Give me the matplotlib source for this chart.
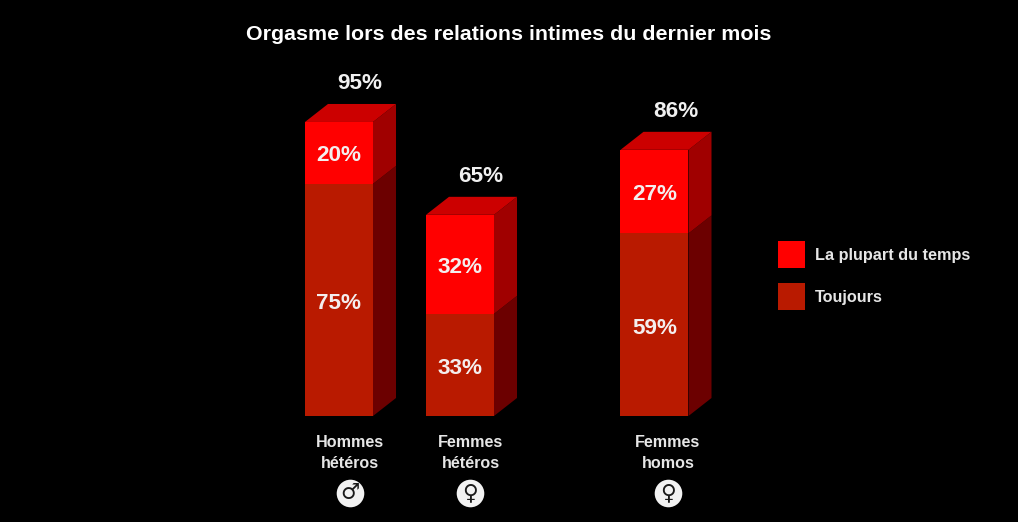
import matplotlib
matplotlib.use("Agg")
import matplotlib.pyplot as plt
from matplotlib.patches import Polygon, Patch

title = "Orgasme lors des relations intimes du dernier mois"
groups = ["Hommes\nhétéros", "Femmes\nhétéros", "Femmes\nhomos"]
symbols = ["♂", "♀", "♀"]
toujours = [75, 33, 59]
plupart = [20, 32, 27]
totals = [95, 65, 86]
centers = [339, 460, 654.5]
label_offsets = [11, 10.5, 13.5]
series_names = ["La plupart du temps", "Toujours"]

RED, DARK = "#ff0000", "#b91a00"
SIDE_RED, SIDE_DARK = "#a00000", "#6c0000"
TOP_RED = "#cc0000"
WIDTH, DX = 68, 23
PX_PER_UNIT = 3.095
DY = 18 / PX_PER_UNIT
FONT = "Liberation Sans"

fig = plt.figure(figsize=(10.18, 5.22), dpi=100, facecolor="black")
ax = fig.add_axes([0, 0, 1, 1], facecolor="black")
ax.set_xlim(0, 1018)
ax.set_ylim(-(522 - 416) / PX_PER_UNIT, 416 / PX_PER_UNIT)
ax.axis("off")


def side(x0, lo, hi, color):
    x1 = x0 + WIDTH
    ax.add_patch(Polygon([(x1, lo), (x1 + DX, lo + DY), (x1 + DX, hi + DY), (x1, hi)],
                         closed=True, fc=color, ec="none"))


for c, t, p, total, g, s, off in zip(centers, toujours, plupart, totals, groups, symbols, label_offsets):
    x0 = c - WIDTH / 2
    side(x0, 0, t, SIDE_DARK)
    side(x0, t, total, SIDE_RED)
    ax.add_patch(Polygon([(x0, total), (x0 + DX, total + DY), (x0 + WIDTH + DX, total + DY),
                          (x0 + WIDTH, total)], closed=True, fc=TOP_RED, ec="none"))
    ax.bar(c, t, width=WIDTH, color=DARK, linewidth=0)
    ax.bar(c, p, width=WIDTH, bottom=t, color=RED, linewidth=0)
    ax.text(c, t / 2 - 1.1, f"{t}%", color="#f4eeee", fontsize=16.2, fontweight="bold",
            family=FONT, ha="center", va="center")
    ax.text(c, t + p / 2 - 0.9, f"{p}%", color="#f4eeee", fontsize=16.2, fontweight="bold",
            family=FONT, ha="center", va="center")
    ax.text(c + 21, total + 12.4, f"{total}%", color="#f0f0f0", fontsize=16.2, fontweight="bold",
            family=FONT, ha="center", va="center")
    lx = c + off
    ax.text(lx, -12.1, g, color="#e6e6e6", fontsize=11.6, fontweight="bold", family=FONT,
            ha="center", va="center", linespacing=1.5)
    ax.scatter([lx], [-25.0], s=395, color="#f2f2f2", linewidth=0, zorder=3)
    ax.text(lx, -25.0, s, color="#1a1a1a", fontsize=15.5, family="DejaVu Sans",
            ha="center", va="center", zorder=4)

ax.text(508.5, 123.3, title, color="white", fontsize=15.4, fontweight="bold", family=FONT,
        ha="center", va="center")

handles = [Patch(fc=RED, ec="none"), Patch(fc=DARK, ec="none")]
leg = ax.legend(handles, series_names, loc="center left", bbox_to_anchor=(778 / 1018, 1 - 275.5 / 522),
                frameon=False, handlelength=1.65, handleheight=2.15, labelspacing=0.95,
                handletextpad=0.6, borderpad=0, borderaxespad=0,
                prop={"family": FONT, "weight": "bold", "size": 11.7})
for txt in leg.get_texts():
    txt.set_color("#e6e6e6")

fig.savefig("out.png", dpi=100, facecolor="black")
